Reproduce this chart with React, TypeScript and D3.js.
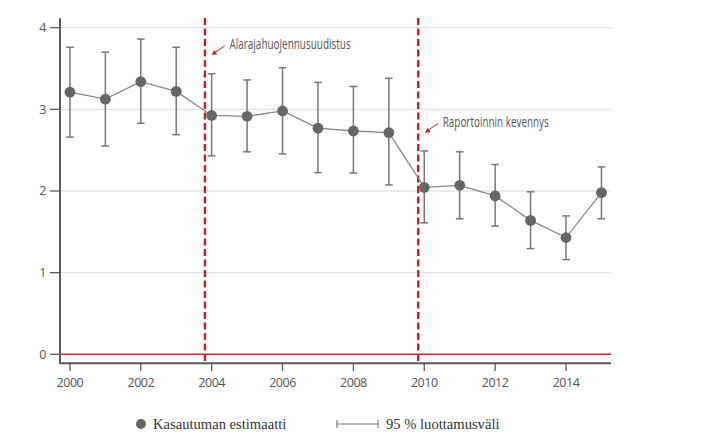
import React from "react";
import * as d3 from "d3";

const years = [2000, 2001, 2002, 2003, 2004, 2005, 2006, 2007, 2008, 2009, 2010, 2011, 2012, 2013, 2014, 2015];
const estimates = [3.21, 3.125, 3.34, 3.22, 2.925, 2.915, 2.98, 2.77, 2.735, 2.715, 2.045, 2.07, 1.94, 1.64, 1.43, 1.98];
const lower = [2.66, 2.55, 2.83, 2.69, 2.43, 2.48, 2.455, 2.225, 2.22, 2.075, 1.61, 1.66, 1.57, 1.295, 1.16, 1.66];
const upper = [3.76, 3.70, 3.86, 3.76, 3.435, 3.36, 3.51, 3.33, 3.28, 3.38, 2.49, 2.48, 2.325, 1.99, 1.695, 2.295];
const xTicks = [2000, 2002, 2004, 2006, 2008, 2010, 2012, 2014];
const yTicks = [0, 1, 2, 3, 4];
const gridValues = [1, 2, 3, 4];
const reforms = [
  { year: 2003.81, label: "Alarajahuojennusuudistus", labelY: 3.75 },
  { year: 2009.83, label: "Raportoinnin kevennys", labelY: 2.8 },
];
const legendPoint = "Kasautuman estimaatti";
const legendCI = "95 % luottamusväli";

export default function App() {
  const x = d3.scaleLinear().domain([1999.72, 2015.27]).range([60, 611]);
  const y = d3.scaleLinear().domain([-0.11, 4.115]).range([363.3, 18.3]);
  const tickFont = "'Open Sans', sans-serif";
  const line = d3
    .line<number>()
    .x((_, i) => x(years[i]))
    .y((d) => y(d));

  return (
    <div style={{ position: "fixed", left: 0, top: 0 }}>
      <svg width={710} height={444} style={{ display: "block", background: "#fff" }}>
        {gridValues.map((v) => (
          <line key={v} x1={60} x2={611} y1={y(v)} y2={y(v)} stroke="#e4e4e4" strokeWidth={1.3} />
        ))}
        <line x1={60} x2={611} y1={y(0)} y2={y(0)} stroke="#cc2a30" strokeWidth={1.5} />
        {/* axes */}
        <line x1={60} x2={60} y1={18.3} y2={364} stroke="#5a5a5a" strokeWidth={2} />
        <line x1={59} x2={611} y1={363.3} y2={363.3} stroke="#5a5a5a" strokeWidth={2} />
        {yTicks.map((v) => (
          <g key={v}>
            <line x1={50} x2={60} y1={y(v)} y2={y(v)} stroke="#5a5a5a" strokeWidth={1.3} />
            <text x={46} y={y(v)} dy="0.35em" textAnchor="end" fontFamily={tickFont} fontSize={12.5} fill="#555" style={{ letterSpacing: "-0.3px" }}>
              {v}
            </text>
          </g>
        ))}
        {xTicks.map((t) => (
          <g key={t}>
            <line x1={x(t)} x2={x(t)} y1={363.3} y2={371} stroke="#5a5a5a" strokeWidth={1.3} />
            <text x={x(t)} y={387} textAnchor="middle" fontFamily={tickFont} fontSize={12.5} fill="#555" style={{ letterSpacing: "-0.5px" }}>
              {t}
            </text>
          </g>
        ))}
        {/* reform lines */}
        {reforms.map((r) => (
          <g key={r.label}>
            <line x1={x(r.year)} x2={x(r.year)} y1={18} y2={363} stroke="#c0202a" strokeWidth={2.4} strokeDasharray="7,3.5" />
            <line x1={x(r.year) + 20} y1={y(r.labelY) - 2.4} x2={x(r.year) + 9} y2={y(r.labelY) + 5} stroke="#c0202a" strokeWidth={1} />
            <path
              d={`M${x(r.year) + 6.7},${y(r.labelY) + 7} l5.6,-0.8 l-2.9,-4.2 z`}
              fill="#c0202a"
            />
            <text
              x={x(r.year) + 24.5}
              y={y(r.labelY) + 1}
              fontFamily={tickFont}
              fontSize={14.5}
              fill="#555"
              textLength={r.label.length * 5.05}
              lengthAdjust="spacingAndGlyphs"
            >
              {r.label}
            </text>
          </g>
        ))}
        {/* error bars */}
        {years.map((yr, i) => (
          <g key={yr} stroke="#777" strokeWidth={1.5}>
            <line x1={x(yr)} x2={x(yr)} y1={y(lower[i])} y2={y(upper[i])} />
            <line x1={x(yr) - 3.8} x2={x(yr) + 3.8} y1={y(lower[i])} y2={y(lower[i])} />
            <line x1={x(yr) - 3.8} x2={x(yr) + 3.8} y1={y(upper[i])} y2={y(upper[i])} />
          </g>
        ))}
        <path d={line(estimates) || ""} fill="none" stroke="#888" strokeWidth={1.3} />
        {years.map((yr, i) => (
          <circle key={yr} cx={x(yr)} cy={y(estimates[i])} r={5.4} fill="#666" />
        ))}
        {/* legend */}
        <circle cx={141} cy={424} r={5} fill="#666" />
        <text x={153} y={429} fontFamily="'Liberation Serif', serif" fontSize={14.6} fill="#333">
          {legendPoint}
        </text>
        <g stroke="#777" strokeWidth={1.2}>
          <line x1={337} x2={378} y1={424} y2={424} />
          <line x1={337} x2={337} y1={420} y2={428} />
          <line x1={378} x2={378} y1={420} y2={428} />
        </g>
        <text x={386} y={429} fontFamily="'Liberation Serif', serif" fontSize={14.6} fill="#333">
          {legendCI}
        </text>
      </svg>
    </div>
  );
}
